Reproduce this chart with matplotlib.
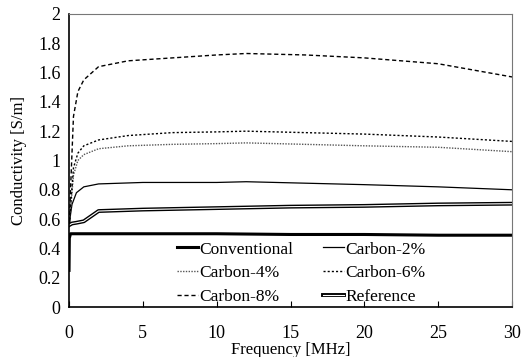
import matplotlib
matplotlib.use("Agg")
import matplotlib.pyplot as plt
import matplotlib.patheffects as pe

plt.rcParams["font.family"] = ["Liberation Serif", "DejaVu Serif"]

freq_conv = [0.0, 0.02, 0.1, 1, 5, 10, 15, 20, 25, 30]
conventional = [0.25, 0.47, 0.5, 0.5, 0.5, 0.5, 0.495, 0.495, 0.49, 0.49]

freq_c2 = [0.03, 0.1, 0.2, 0.5, 1, 2, 5, 10, 12, 16, 20, 25, 30]
carbon2 = [0.57, 0.63, 0.7, 0.78, 0.82, 0.84, 0.85, 0.85, 0.855, 0.845, 0.835, 0.82, 0.80]

freq_c = [0.03, 0.1, 0.3, 0.6, 1, 2, 4, 7, 10, 12, 16, 20, 25, 30]
carbon4 = [0.57, 0.66, 0.9, 1.0, 1.04, 1.08, 1.1, 1.11, 1.115, 1.12, 1.11, 1.1, 1.09, 1.06]
carbon6 = [0.57, 0.68, 0.95, 1.05, 1.1, 1.14, 1.17, 1.19, 1.195, 1.2, 1.19, 1.18, 1.16, 1.13]
carbon8 = [0.58, 0.8, 1.3, 1.47, 1.55, 1.64, 1.68, 1.70, 1.72, 1.73, 1.72, 1.70, 1.66, 1.57]

freq_ref = [0.03, 0.2, 0.5, 1, 2, 5, 10, 15, 20, 25, 30]
reference = [0.56, 0.57, 0.575, 0.585, 0.655, 0.665, 0.675, 0.685, 0.69, 0.70, 0.705]

fig, ax = plt.subplots(figsize=(5.23, 3.57), dpi=100)
fig.subplots_adjust(left=0.132, right=0.979, top=0.961, bottom=0.14)

h_conv, = ax.plot(freq_conv, conventional, color="black", lw=2.2, label="Conventional")
h_c2, = ax.plot(freq_c2, carbon2, color="black", lw=0.9, label="Carbon-2%")
h_c4, = ax.plot(freq_c, carbon4, color="#555555", lw=1.0, ls=(0, (1, 1)), label="Carbon-4%")
h_c6, = ax.plot(freq_c, carbon6, color="black", lw=1.0, ls=(0, (1.5, 1.5)), label="Carbon-6%")
h_c8, = ax.plot(freq_c, carbon8, color="black", lw=1.0, ls=(0, (3, 2)), label="Carbon-8%")
h_ref, = ax.plot(freq_ref, reference, color="white", lw=0.8, label="Reference",
                 path_effects=[pe.Stroke(linewidth=2.8, foreground="black"), pe.Normal()])

ax.set_xlim(0, 30)
ax.set_ylim(0, 2)
ax.set_xticks([0, 5, 10, 15, 20, 25, 30])
ax.set_yticks([0, 0.2, 0.4, 0.6, 0.8, 1, 1.2, 1.4, 1.6, 1.8, 2])
ax.set_yticklabels(["0", "0.2", "0.4", "0.6", "0.8", "1", "1.2", "1.4", "1.6", "1.8", "2"])
ax.tick_params(axis="x", direction="in", length=4, labelsize=13, pad=13)
ax.tick_params(axis="y", direction="in", length=0, labelsize=13, pad=6)
for side in ["top", "right"]:
    ax.spines[side].set_color("#777777")
    ax.spines[side].set_linewidth(0.8)
for side in ["left", "bottom"]:
    ax.spines[side].set_linewidth(1.2)

ax.set_xlabel("Frequency [MHz]", fontsize=12, labelpad=0)
ax.set_ylabel("Conductivity [S/m]", fontsize=12, labelpad=8)

# legend is filled row by row in the reference
handles = [h_conv, h_c4, h_c8, h_c2, h_c6, h_ref]
ax.legend(handles=handles, labels=[h.get_label() for h in handles], ncol=2,
          loc="lower left", bbox_to_anchor=(0.208, -0.048), frameon=False,
          fontsize=12.5, handlelength=1.2, handletextpad=0.1, columnspacing=1.7,
          labelspacing=0.45)

fig.savefig("out.png", dpi=100)
